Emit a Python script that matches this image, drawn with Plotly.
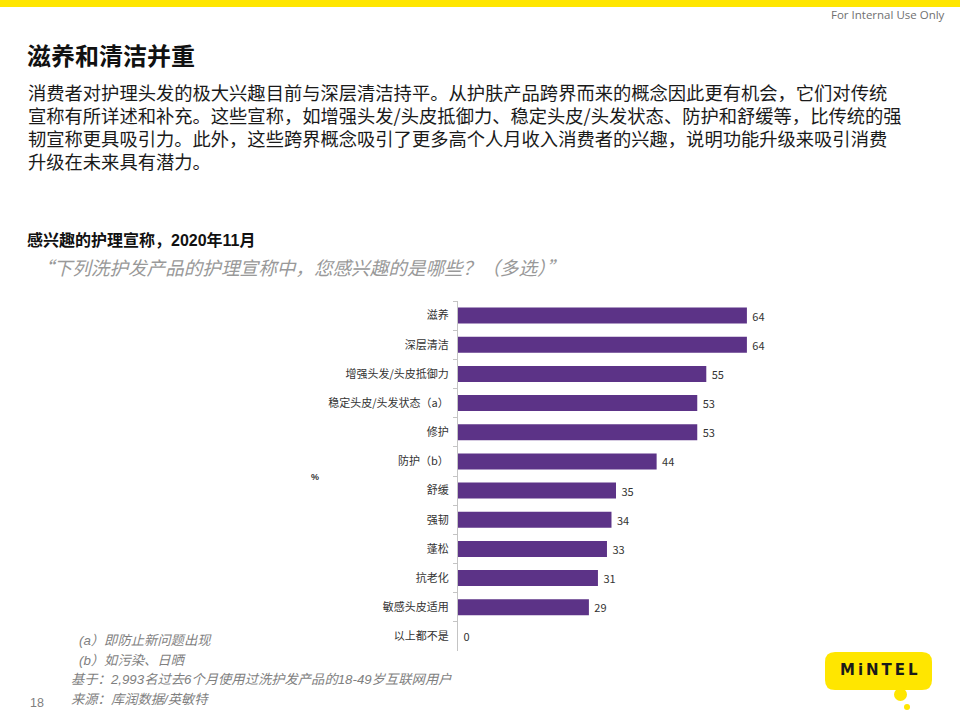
import plotly.graph_objects as go

categories = ["滋养", "深层清洁", "增强头发/头皮抵御力", "稳定头皮/头发状态（a）", "修护",
              "防护（b）", "舒缓", "强韧", "蓬松", "抗老化", "敏感头皮适用", "以上都不是"]
values = [64, 64, 55, 53, 53, 44, 35, 34, 33, 31, 29, 0]

W, H = 960, 720
CJK = "Noto Sans CJK SC"

def py(p):
    return 1 - p / H

def px(p):
    return p / W

fig = go.Figure()
fig.add_trace(go.Bar(
    x=values, y=categories, orientation="h",
    marker=dict(color="#5c3387", line=dict(width=0)),
    text=["\u00a0" + str(v) for v in values], textposition="outside",
    textfont=dict(family=CJK, size=11, color="#333333"),
    cliponaxis=False, width=0.55, hoverinfo="skip",
))

fig.update_layout(
    width=W, height=H, margin=dict(l=0, r=0, t=0, b=0),
    paper_bgcolor="white", plot_bgcolor="white", showlegend=False,
    font=dict(family=CJK),
    xaxis=dict(domain=[px(458), px(774)], range=[0, 70], visible=False, fixedrange=True),
    yaxis=dict(domain=[py(651), py(301)], autorange="reversed", type="category",
               showline=True, linecolor="#c4c4c4", linewidth=1,
               ticks="outside", tickson="boundaries", ticklen=4, tickcolor="#c4c4c4",
               tickfont=dict(family=CJK, size=11, color="#333333"),
               ticklabelstandoff=6, showgrid=False, fixedrange=True),
)

shapes = []
# top yellow band
shapes.append(dict(type="rect", xref="paper", yref="paper", x0=0, x1=1, y0=py(7), y1=1,
                   fillcolor="#ffe600", line=dict(width=0)))
# Mintel logo
shapes.append(dict(type="path", xref="paper", yref="paper",
                   path=("M {a},{b} L {c},{b} Q {d},{b} {d},{e} L {d},{f} Q {d},{g} {c},{g} "
                         "L {a},{g} Q {h},{g} {h},{f} L {h},{e} Q {h},{b} {a},{b} Z").format(
                       a=px(835), c=px(922), d=px(932), h=px(825),
                       b=py(652), e=py(662), f=py(680), g=py(690)),
                   fillcolor="#ffe600", line=dict(width=0)))
shapes.append(dict(type="circle", xref="paper", yref="paper", x0=px(894), x1=px(907),
                   y0=py(701), y1=py(688), fillcolor="#ffe600", line=dict(width=0)))
shapes.append(dict(type="circle", xref="paper", yref="paper", x0=px(904), x1=px(910),
                   y0=py(710), y1=py(704), fillcolor="#ffe600", line=dict(width=0)))
fig.update_layout(shapes=shapes)

def txt(x, y, s, size, color="#000000", family=CJK, xanchor="left", yanchor="middle", align="left"):
    fig.add_annotation(xref="paper", yref="paper", x=px(x), y=py(y), text=s, showarrow=False,
                       xanchor=xanchor, yanchor=yanchor, align=align, borderpad=0,
                       font=dict(family=family, size=size, color=color))

txt(946, 14, "For Internal Use Only", 11.5, "#707070", "Open Sans", xanchor="right")
txt(26, 55, "<b>滋养和清洁并重</b>", 24, "#111111")
body_lines = [
    "消费者对护理头发的极大兴趣目前与深层清洁持平。从护肤产品跨界而来的概念因此更有机会，它们对传统",
    "宣称有所详述和补充。这些宣称，如增强头发/头皮抵御力、稳定头皮/头发状态、防护和舒缓等，比传统的强",
    "韧宣称更具吸引力。此外，这些跨界概念吸引了更多高个人月收入消费者的兴趣，说明功能升级来吸引消费",
    "升级在未来具有潜力。",
]
for i, line in enumerate(body_lines):
    txt(27, 92 + 23 * i, line, 18.3, "#1a1a1a")
txt(26, 240, "<b>感兴趣的护理宣称，2020年11月</b>", 16, "#111111", "Liberation Sans, " + CJK)
txt(34, 266, "<i>“下列洗护发产品的护理宣称中，您感兴趣的是哪些？（多选）”</i>", 18.6, "#999999")
txt(310, 477, "<b>%</b>", 9, "#333333", "Liberation Sans")

foot_font = "Liberation Sans, " + CJK
txt(78, 640, "<i>(a）即防止新问题出现</i>", 13.3, "#7f7f7f", foot_font)
txt(78, 660, "<i>(b）如污染、日晒</i>", 13.3, "#7f7f7f", foot_font)
txt(70, 679, "<i>基于：2,993名过去6个月使用过洗护发产品的18-49岁互联网用户</i>", 13.3, "#7f7f7f", foot_font)
txt(70, 699, "<i>来源：库润数据/英敏特</i>", 13.3, "#7f7f7f", foot_font)
txt(29, 703, "18", 12.5, "#7f7f7f", "Liberation Sans")
txt(879, 670, "<b>M\u2009i\u2009N\u2009T\u2009E\u2009L</b>", 15, "#1a1a1a", "DejaVu Sans", xanchor="center")

fig.write_html("out.html", config={"displayModeBar": False},
               post_script="document.body.style.margin='0';document.body.style.padding='0';")
